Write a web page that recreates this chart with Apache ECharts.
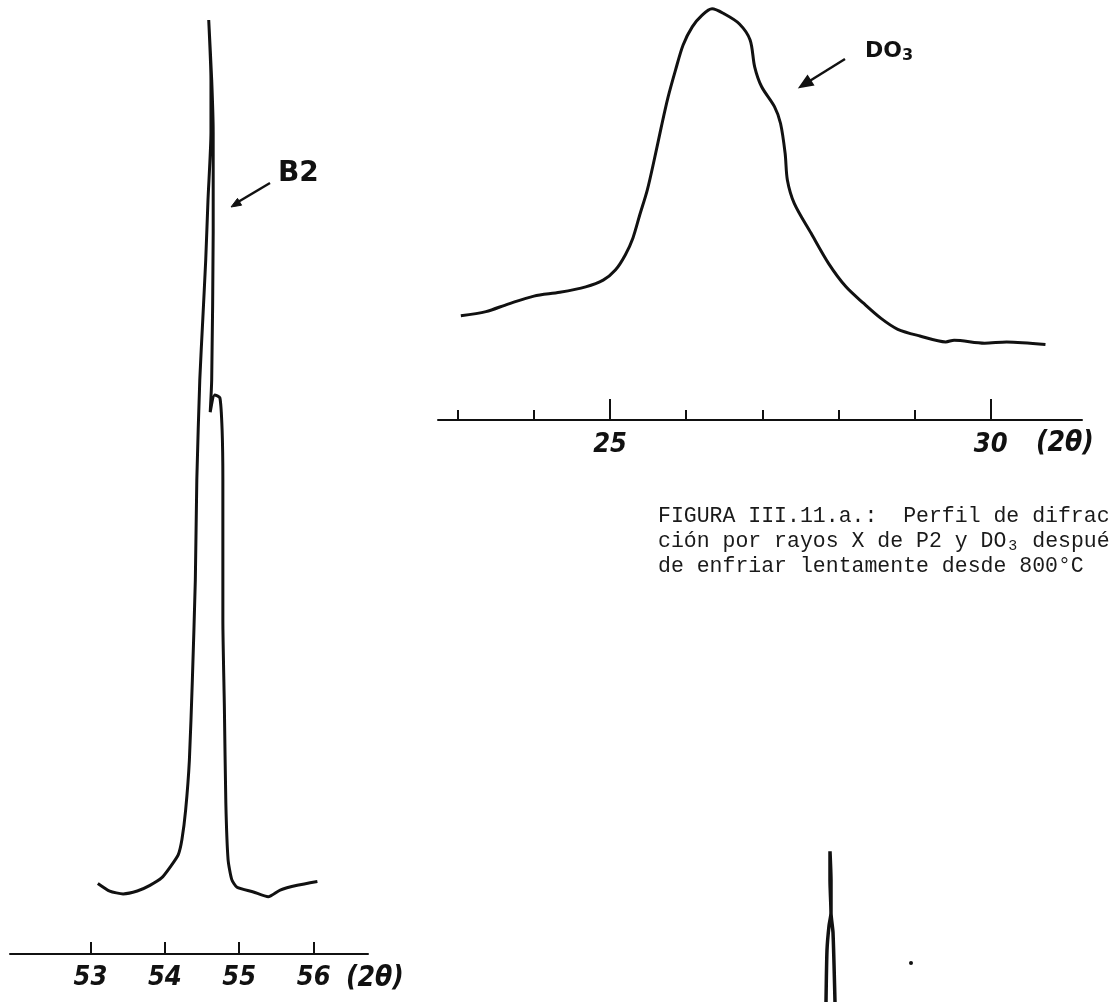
<!DOCTYPE html>
<html>
<head>
<meta charset="utf-8">
<script src="https://cdn.jsdelivr.net/npm/echarts@6/dist/echarts.min.js"></script>
<style>
html, body { margin: 0; padding: 0; background: #fff; }
#chart { width: 1109px; height: 1002px; }
</style>
</head>
<body>
<div id="chart"></div>
<script>
// perfil B2 (2 theta, intensidad relativa) - trazo leido a mano
var b2Angle = [53.10, 53.26, 53.44, 53.63, 53.80, 53.96, 54.07, 54.18, 54.23, 54.28, 54.33, 54.37, 54.41, 54.43, 54.47, 54.51, 54.55, 54.58, 54.62, 54.62, 54.59,
               54.63, 54.65, 54.65, 54.63, 54.61, 54.67, 54.74, 54.77, 54.78, 54.78, 54.80, 54.82, 54.85, 54.90, 54.97, 55.19, 55.39, 55.55, 55.78, 56.05];
var b2Intensity = [7.4, 6.6, 6.3, 6.6, 7.2, 8.0, 9.1, 10.4, 12.0, 15.1, 20.3, 28.7, 39.2, 49.7, 60.2, 66.5, 72.8, 79.0, 86.1, 91.6, 97.9,
                   91.6, 86.1, 75.6, 60.2, 56.8, 58.6, 58.3, 54.9, 49.7, 35.0, 26.0, 15.8, 9.9, 7.8, 7.0, 6.5, 6.0, 6.7, 7.2, 7.6];
var b2Ticks = [53, 54, 55, 56];

// perfil DO3
var do3Angle = [23.04, 23.37, 23.66, 24.00, 24.34, 24.68, 24.91, 25.07, 25.20, 25.30, 25.39, 25.49, 25.58, 25.67, 25.76, 25.86, 25.96, 26.08, 26.21,
                26.34, 26.50, 26.70, 26.84, 26.90, 26.99, 27.16, 27.24, 27.30, 27.33, 27.42, 27.64, 27.87, 28.10, 28.33, 28.56, 28.78, 29.07, 29.41,
                29.52, 29.92, 30.21, 30.72];
var do3Intensity = [24.8, 25.8, 27.6, 29.5, 30.4, 31.7, 33.3, 35.7, 39.3, 43.3, 48.8, 54.8, 61.9, 69.5, 76.7, 83.3, 89.3, 93.6, 96.4,
                    97.9, 96.7, 94.3, 90.5, 84.1, 79.4, 74.6, 70.6, 63.5, 57.1, 51.6, 44.5, 37.3, 31.7, 27.8, 24.2, 21.6, 20.0, 18.6,
                    19.0, 18.3, 18.6, 18.0];
var do3Ticks = [23, 24, 25, 26, 27, 28, 29, 30];
var do3Major = [25, 30];

// pico cortado abajo (figura siguiente), posicion relativa
var lowAngle = [0.26, 0.27, 0.29, 0.31, 0.30, 0.30, 0.31, 0.31, 0.33, 0.35];
var lowIntensity = [0, 32, 47, 55, 75, 93, 75, 55, 43, 0];

function pairs(xs, ys) {
    return xs.map(function (x, i) { return [x, ys[i]]; });
}

var ink = '#111';
var handFont = {
    fontFamily: '"Liberation Sans Narrow", "DejaVu Sans Condensed", "DejaVu Sans"',
    fontStyle: 'italic', fontWeight: 'bold', color: ink
};

var myChart = echarts.init(document.getElementById('chart'));

var option = {
    backgroundColor: '#fff',
    animation: false,
    grid: [
        { left: 10, top: 0, width: 358, height: 954 },
        { left: 438, top: 0, width: 644, height: 420 },
        { left: 800, top: 840, width: 100, height: 162 }
    ],
    xAxis: [
        {
            gridIndex: 0, type: 'value', min: 51.92, max: 56.73,
            splitLine: { show: false },
            axisLine: { lineStyle: { color: ink, width: 2 } },
            axisTick: { inside: true, length: 12, customValues: b2Ticks, lineStyle: { color: ink, width: 2 } },
            axisLabel: Object.assign({ customValues: b2Ticks, fontSize: 27, margin: 10 }, handFont),
            name: '(2θ)', nameLocation: 'end', nameGap: -22,
            nameTextStyle: Object.assign({ fontSize: 28, align: 'left', verticalAlign: 'top', padding: [11, 0, 0, 0] }, handFont)
        },
        {
            gridIndex: 1, type: 'value', min: 22.74, max: 31.2, position: 'bottom',
            splitLine: { show: false },
            axisLine: { lineStyle: { color: ink, width: 2 } },
            axisTick: { inside: true, length: 10, customValues: do3Ticks, lineStyle: { color: ink, width: 2 } },
            axisLabel: Object.assign({ customValues: do3Major, fontSize: 27, margin: 11 }, handFont),
            name: '(2θ)', nameLocation: 'end', nameGap: -46,
            nameTextStyle: Object.assign({ fontSize: 28, align: 'left', verticalAlign: 'top', padding: [10, 0, 0, 0] }, handFont)
        },
        {
            // marcas largas en 25 y 30
            gridIndex: 1, type: 'value', min: 22.74, max: 31.2, position: 'bottom',
            splitLine: { show: false },
            axisLine: { show: false },
            axisTick: { inside: true, length: 21, customValues: do3Major, lineStyle: { color: ink, width: 2 } },
            axisLabel: { show: false }
        },
        {
            gridIndex: 2, type: 'value', min: 0, max: 1, show: false
        }
    ],
    yAxis: [
        { gridIndex: 0, type: 'value', min: 0, max: 100, show: false },
        { gridIndex: 1, type: 'value', min: 0, max: 100, show: false },
        { gridIndex: 2, type: 'value', min: 0, max: 100, show: false }
    ],
    series: [
        {
            name: 'B2', type: 'line', xAxisIndex: 0, yAxisIndex: 0,
            data: pairs(b2Angle, b2Intensity),
            showSymbol: false, smooth: 0.2,
            lineStyle: { color: ink, width: 3 }
        },
        {
            name: 'DO3', type: 'line', xAxisIndex: 1, yAxisIndex: 1,
            data: pairs(do3Angle, do3Intensity),
            showSymbol: false, smooth: 0.3,
            lineStyle: { color: ink, width: 3 }
        },
        {
            name: 'pico', type: 'line', xAxisIndex: 3, yAxisIndex: 2,
            data: pairs(lowAngle, lowIntensity),
            showSymbol: false, smooth: 0.2,
            lineStyle: { color: ink, width: 3.5 }
        }
    ],
    graphic: [
        // flecha B2
        { type: 'line', shape: { x1: 270, y1: 183, x2: 238, y2: 202 }, style: { stroke: ink, lineWidth: 2.5 } },
        { type: 'polygon', shape: { points: [[231, 207], [241.6, 205.2], [237.5, 198.4]] }, style: { fill: ink, stroke: ink, lineWidth: 1 } },
        { type: 'text', left: 278, top: 160, style: { text: 'B2', font: 'bold 28px "DejaVu Sans"', fill: ink } },
        // flecha DO3
        { type: 'line', shape: { x1: 845, y1: 59, x2: 808, y2: 82 }, style: { stroke: ink, lineWidth: 2.5 } },
        { type: 'polygon', shape: { points: [[800, 87], [812.9, 84.8], [807.5, 76.4]] }, style: { fill: ink, stroke: ink, lineWidth: 2 } },
        {
            type: 'text', left: 865, top: 38,
            style: {
                text: 'DO{s|3}', font: 'bold 22px "DejaVu Sans"', lineHeight: 26, fill: ink,
                rich: { s: { font: 'bold 16px "DejaVu Sans"', fill: ink, lineHeight: 18, verticalAlign: 'bottom' } }
            }
        },
        // mancha del escaneo
        { type: 'circle', shape: { cx: 911, cy: 963, r: 2 }, style: { fill: ink } },
        // pie de figura
        {
            type: 'text', left: 658, top: 504,
            style: {
                text: 'FIGURA III.11.a.:  Perfil de difrac\nción por rayos X de P2 y DO{s|3} después\nde enfriar lentamente desde 800°C',
                font: '21.5px "Liberation Mono"',
                lineHeight: 25,
                fill: '#1a1a1a',
                rich: {
                    s: { font: '15px "Liberation Mono"', fill: '#1a1a1a', lineHeight: 14, verticalAlign: 'bottom', padding: [0, 2, 0, 2] }
                }
            }
        }
    ]
};
myChart.setOption(option);
</script>
</body>
</html>
